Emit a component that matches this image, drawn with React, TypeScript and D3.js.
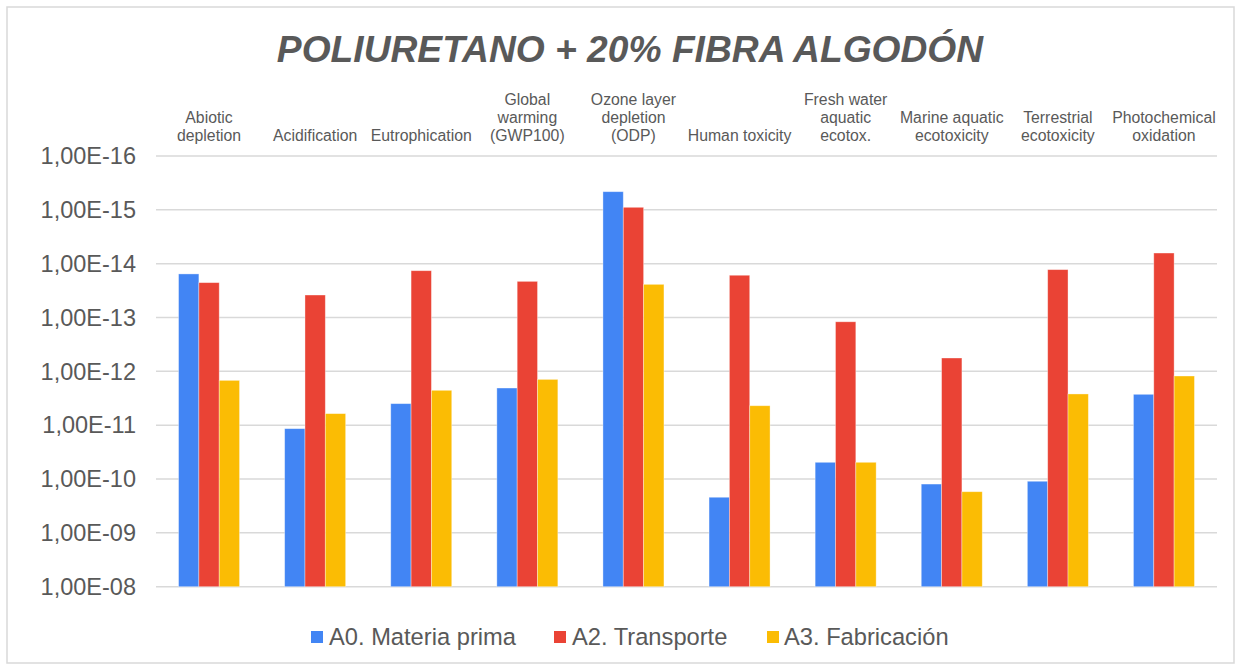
import React from "react";
import * as d3 from "d3";

const categories: string[][] = [
  ["Abiotic", "depletion"],
  ["Acidification"],
  ["Eutrophication"],
  ["Global", "warming", "(GWP100)"],
  ["Ozone layer", "depletion", "(ODP)"],
  ["Human toxicity"],
  ["Fresh water", "aquatic", "ecotox."],
  ["Marine aquatic", "ecotoxicity"],
  ["Terrestrial", "ecotoxicity"],
  ["Photochemical", "oxidation"],
];

const seriesNames = ["A0. Materia prima", "A2. Transporte", "A3. Fabricación"];
const seriesColors = ["#4285F4", "#EA4335", "#FBBC04"];

const a0Values = [1.55e-14, 1.16e-11, 3.98e-12, 2.04e-12, 4.6e-16, 2.18e-10, 4.89e-11, 1.24e-10, 1.1e-10, 2.67e-12];
const a2Values = [2.25e-14, 3.82e-14, 1.35e-14, 2.13e-14, 8.97e-16, 1.64e-14, 1.2e-13, 5.65e-13, 1.29e-14, 6.34e-15];
const a3Values = [1.47e-12, 6.1e-12, 2.25e-12, 1.41e-12, 2.42e-14, 4.35e-12, 4.89e-11, 1.72e-10, 2.63e-12, 1.22e-12];

const tickValues = [1e-16, 1e-15, 1e-14, 1e-13, 1e-12, 1e-11, 1e-10, 1e-9, 1e-8];
const tickLabels = ["1,00E-16", "1,00E-15", "1,00E-14", "1,00E-13", "1,00E-12", "1,00E-11", "1,00E-10", "1,00E-09", "1,00E-08"];

const title = "POLIURETANO + 20% FIBRA ALGODÓN";

const W = 1241;
const H = 670;
const FONT = "'Liberation Sans', Arial, sans-serif";
const TEXT = "#595959";

export default function App() {
  const series = [a0Values, a2Values, a3Values];
  const catKeys = categories.map((c) => c.join(" "));
  const x = d3.scaleBand<string>().domain(catKeys).range([156, 1217]).paddingInner(0.425).paddingOuter(0.2125);
  const xs = d3.scaleBand<number>().domain([0, 1, 2]).range([0, x.bandwidth()]);
  const y = d3.scaleLog().domain([1e-16, 1e-8]).range([156, 586.7]);
  const base = y(1e-8);

  const legendItems = [
    { sq: 311, tx: 329 },
    { sq: 554, tx: 572 },
    { sq: 767, tx: 784 },
  ];

  return (
    <div style={{ position: "absolute", left: 0, top: 0 }}>
      <svg width={W} height={H} style={{ display: "block", fontFamily: FONT }}>
        <rect x={0} y={0} width={W} height={H} fill="#ffffff" />
        <rect x={7} y={7} width={1227} height={656} fill="#ffffff" stroke="#d9d9d9" strokeWidth={1.5} />
        <text x={630} y={62} textAnchor="middle" fontSize={37.2} fontWeight="bold" fontStyle="italic" fill={TEXT}>
          {title}
        </text>
        {tickValues.map((t, i) => (
          <g key={i}>
            <line x1={156} x2={1217} y1={y(t)} y2={y(t)} stroke="#d9d9d9" strokeWidth={1.5} />
            <text x={136} y={y(t)} dy="0.35em" textAnchor="end" fontSize={23.5} fill={TEXT}>
              {tickLabels[i]}
            </text>
          </g>
        ))}
        {categories.map((lines, ci) => {
          const cx = (x(catKeys[ci]) as number) + x.bandwidth() / 2;
          return (
            <text key={ci} x={cx} textAnchor="middle" fontSize={15.8} fill={TEXT}>
              {lines.map((l, li) => (
                <tspan key={li} x={cx} y={141 - (lines.length - 1 - li) * 17.8}>
                  {l}
                </tspan>
              ))}
            </text>
          );
        })}
        {series.map((vals, si) =>
          vals.map((v, ci) => {
            const bx = (x(catKeys[ci]) as number) + (xs(si) as number);
            const top = y(v);
            return (
              <rect
                key={`${si}-${ci}`}
                x={bx}
                y={top}
                width={xs.bandwidth()}
                height={base - top}
                fill={seriesColors[si]}
                stroke="#ffffff"
                strokeOpacity={0.45}
                strokeWidth={0.8}
              />
            );
          })
        )}
        {seriesNames.map((n, i) => (
          <g key={i}>
            <rect x={legendItems[i].sq} y={631} width={12} height={12} fill={seriesColors[i]} />
            <text x={legendItems[i].tx} y={637} dy="0.35em" fontSize={23.7} fill={TEXT}>
              {n}
            </text>
          </g>
        ))}
      </svg>
    </div>
  );
}
